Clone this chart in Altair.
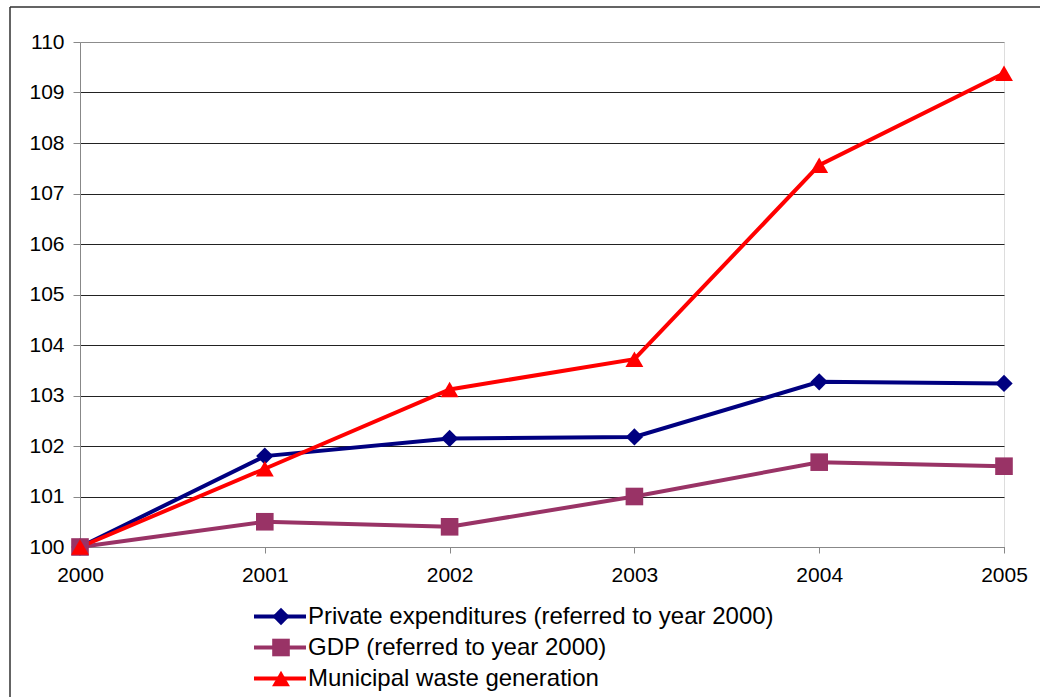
import altair as alt
import pandas as pd

years = ["2000", "2001", "2002", "2003", "2004", "2005"]
private = [100, 101.8, 102.15, 102.18, 103.27, 103.24]
gdp = [100, 100.5, 100.4, 101.0, 101.68, 101.6]
waste = [100, 101.55, 103.12, 103.72, 107.56, 109.38]
series_names = [
    "Private expenditures (referred to year 2000)",
    "GDP (referred to year 2000)",
    "Municipal waste generation",
]
colors = ["#000080", "#993366", "#FF0000"]
shapes = ["diamond", "square", "triangle-up"]
marker_sizes = [300, 320, 400]
y_ticks = list(range(100, 111))

rows = []
for name, vals in zip(series_names, [private, gdp, waste]):
    for yr, v in zip(years, vals):
        rows.append({"year": yr, "value": v, "series": name, "series2": name})
df = pd.DataFrame(rows)

FONT = "Liberation Sans"

x_enc = alt.X(
    "year:O",
    scale=alt.Scale(type="point", padding=0),
    axis=alt.Axis(title=None, labelAngle=0, grid=False, tickSize=6,
                  labelPadding=11, labelFontSize=21),
)
y_enc = alt.Y(
    "value:Q",
    scale=alt.Scale(domain=[100, 110], nice=False, zero=False),
    axis=alt.Axis(title=None, values=y_ticks, grid=True, tickSize=7,
                  labelPadding=9, labelFontSize=21,
                  gridColor={"condition": {"test": "datum.value === 110", "value": "#8c8c8c"},
                             "value": "#222222"}),
)

stroke_legend = alt.Legend(
    title=None, orient="none", legendX=172, legendY=559,
    symbolType="stroke", symbolSize=2704, symbolStrokeWidth=4,
    clipHeight=31, rowPadding=0, labelFontSize=24, labelFont=FONT,
    labelColor="#000000", labelOffset=0, labelLimit=700,
)
shape_legend = alt.Legend(
    title=None, orient="none", legendX=189, legendY=559,
    clipHeight=31, rowPadding=0, labelFontSize=24, labelFont=FONT,
    labelExpr="''", labelLimit=700, symbolOpacity=1,
)

lines = alt.Chart(df).mark_line(strokeWidth=4).encode(
    x=x_enc,
    y=y_enc,
    stroke=alt.Stroke("series:N", sort=series_names, scale=alt.Scale(range=colors),
                      legend=stroke_legend),
)
points = alt.Chart(df).mark_point(filled=True, opacity=1).encode(
    x=x_enc,
    y=y_enc,
    fill=alt.Fill("series2:N", scale=alt.Scale(domain=series_names, range=colors),
                  legend=shape_legend),
    shape=alt.Shape("series2:N", scale=alt.Scale(domain=series_names, range=shapes),
                    legend=shape_legend),
    size=alt.Size("series2:N", scale=alt.Scale(domain=series_names, range=marker_sizes),
                  legend=shape_legend),
)

frame_df = pd.DataFrame({"k": [0]})
frame_top = alt.Chart(frame_df).mark_rule(color="#303030", strokeWidth=1.5).encode(
    x=alt.value(-70), x2=alt.value(1000), y=alt.value(-35)
)
frame_left = alt.Chart(frame_df).mark_rule(color="#303030", strokeWidth=1.5).encode(
    x=alt.value(-70), y=alt.value(-35), y2=alt.value(700)
)

chart = alt.layer(frame_top, frame_left, lines, points).properties(
    width=924, height=505,
    autosize=alt.AutoSizeParams(type="none"),
    padding={"left": 80, "top": 42, "right": 36, "bottom": 150},
).configure_view(
    stroke="#8c8c8c", strokeWidth=2
).configure_axis(
    domainColor="#000000", domainWidth=1.5, tickColor="#000000",
    labelColor="#000000", labelFont=FONT,
).configure(background="white")

chart.save("out.html", embed_options={"renderer": "svg", "actions": False})
